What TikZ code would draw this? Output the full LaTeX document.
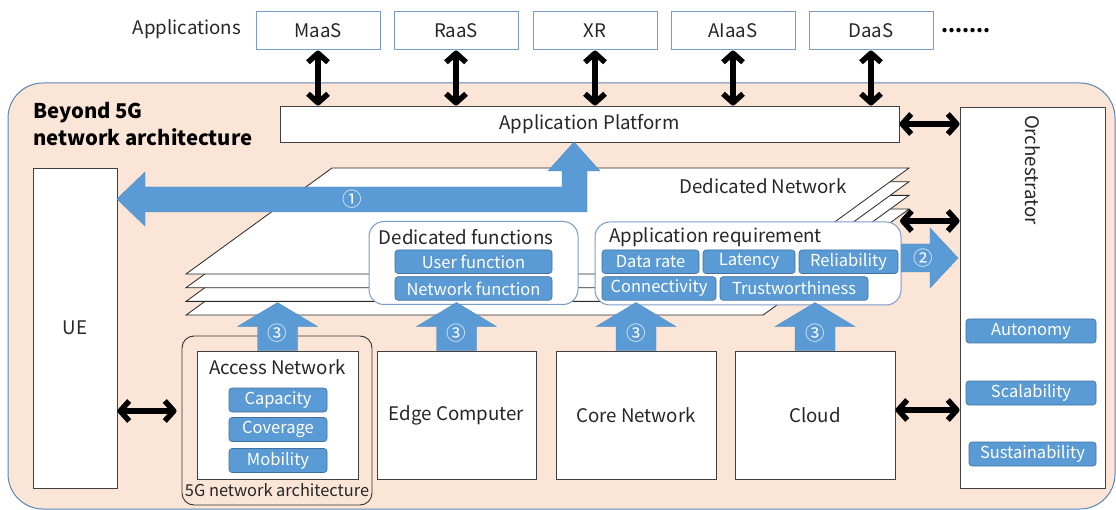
\documentclass[tikz,border=0pt]{standalone}
\usepackage{fontspec}
\setmainfont{Noto Sans CJK JP}
\usetikzlibrary{arrows.meta}
\definecolor{peach}{HTML}{FBE5D6}
\definecolor{bblue}{HTML}{5B9BD5}
\definecolor{bbord}{HTML}{41719C}
\definecolor{appbord}{HTML}{7A9CC8}
\definecolor{outbord}{HTML}{5A86B8}
\definecolor{txt}{HTML}{262626}
\tikzset{
  lbl/.style={font=\fontsize{18.7}{22}\selectfont, text=txt, inner sep=0pt},
  plainbox/.style={draw=black!75, fill=white, line width=0.9pt, inner sep=0pt, font=\fontsize{18.7}{22}\selectfont, text=txt},
  appbox/.style={draw=appbord, fill=white, line width=1pt, inner sep=0pt, minimum width=124pt, minimum height=38pt, font=\fontsize{18.7}{22}\selectfont, text=txt},
  bdg/.style={fill=bblue, draw=bbord, line width=0.6pt, rounded corners=3pt, text=white, font=\fontsize{16.5}{19}\selectfont, inner sep=0pt, minimum height=23.5pt},
  groupbox/.style={draw=appbord, fill=white, line width=1pt, rounded corners=15pt, inner sep=0pt},
  dbl/.style={draw=black, line width=5.5pt, {Straight Barb[length=9pt,width=20pt,line join=round]}-{Straight Barb[length=9pt,width=20pt,line join=round]}},
  circ/.style={text=white, font=\fontsize{19.5}{22}\selectfont, inner sep=0pt},
  layer/.style={fill=white, draw=black!85, line width=0.8pt},
  blockarrow/.style={fill=bblue, draw=bblue!90!black, line width=0.4pt},
  uparrow/.pic={\path[blockarrow] (-20,0) -- (-20,-24) -- (-40,-24) -- (0,-48) -- (40,-24) -- (20,-24) -- (20,0) -- cycle;
     \node[circ] at (0,-17) {③};}
}
\begin{document}
\begin{tikzpicture}[x=1pt,y=-1pt]
\useasboundingbox (0,0) rectangle (1116,510);
% outer frame
\path[fill=peach, draw=outbord, line width=1pt, rounded corners=35pt] (8,83) rectangle (1115,509);
\node[anchor=base west, font=\bfseries\fontsize{20.3}{25}\selectfont, text=black, inner sep=0pt] (title1) at (33,119) {Beyond 5G};
\node[anchor=base west, font=\bfseries\fontsize{20.3}{25}\selectfont, text=black, inner sep=0pt] (title2) at (33,146) {network architecture};

% applications
\node[lbl] (apps) at (187,29) {Applications};
\node[appbox] (maas) at (318,31) {MaaS};
\node[appbox] (raas) at (456,31) {RaaS};
\node[appbox] (xr) at (595,31) {XR};
\node[appbox] (aiaas) at (733,31) {AIaaS};
\node[appbox] (daas) at (871,31) {DaaS};
\node[font=\bfseries\fontsize{20}{22}\selectfont, inner sep=0pt] (dots) at (966,31) {.......};

% platform, orchestrator, UE
\node[plainbox, minimum width=619pt, minimum height=36pt] (plat) at (589.5,124) {Application Platform};
\node[plainbox, minimum width=145pt, minimum height=381pt] (orch) at (1032.5,297.5) {};
\node[lbl, rotate=-90] (orchtxt) at (1033,170) {Orchestrator};
\node[plainbox, minimum width=84pt, minimum height=320pt] (ue) at (75,328) {UE};

\foreach \a in {maas,raas,xr,aiaas,daas}{
  \draw[dbl] (\a.south) -- (\a.south |- plat.north);
}
\draw[dbl] (plat.east) -- (plat.east -| orch.west);

% dedicated network layers
\foreach \k in {3,2,1,0}{
  \path[layer] ({332},{168+13.7*\k}) -- ({909},{168+13.7*\k}) -- ({763},{274+13.7*\k}) -- ({186},{274+13.7*\k}) -- cycle;
}
\node[lbl] (dnet) at (763,186) {Dedicated Network};

% arrow 1
\path[blockarrow] (117,199) -- (145,172) -- (145,187) -- (562,187) -- (562,171) -- (548,171) -- (574,142) -- (600,171) -- (587,171) -- (587,212) -- (145,212) -- (145,226) -- cycle;
\node[circ] (c1) at (352,199) {①};

% dedicated functions
\node[groupbox, minimum width=209pt, minimum height=83pt] (dfun) at (473.5,263) {};
\node[lbl] (dfuntxt) at (466,237) {Dedicated functions};
\node[bdg, minimum width=157pt] (userf) at (473.5,261.75) {User function};
\node[bdg, minimum width=157pt] (netf) at (473.5,288.5) {Network function};

% application requirement
\node[groupbox, minimum width=306pt, minimum height=83pt] (areq) at (748,263.5) {};
\node[lbl, anchor=west] (areqtxt) at (609,237) {Application requirement};
\node[bdg, minimum width=97pt] (drate) at (650.5,261.75) {Data rate};
\node[bdg, minimum width=92pt] (lat) at (749,261.75) {Latency};
\node[bdg, minimum width=99pt] (rel) at (848.5,261.75) {Reliability};
\node[bdg, minimum width=114pt] (conn) at (659,288.5) {Connectivity};
\node[bdg, minimum width=148pt] (trust) at (794,288.5) {Trustworthiness};

% arrow 2
\path[blockarrow] (901,244) -- (930,244) -- (930,228) -- (958,258) -- (930,288) -- (930,272) -- (901,272) -- cycle;
\node[circ] (c2) at (923,258) {②};
\coordinate (dnr) at (900,221);
\draw[dbl] (dnr) -- (dnr -| orch.west);

% lower boxes
\node[draw=black!80, line width=0.9pt, rounded corners=12pt, minimum width=190pt, minimum height=169pt, inner sep=0pt] (g5) at (277,420.5) {};
\node[font=\fontsize{16.4}{19}\selectfont, text=txt, inner sep=0pt] (g5txt) at (277,490) {5G network architecture};
\node[plainbox, minimum width=161pt, minimum height=128pt] (access) at (277.5,415) {};
\node[lbl] (accesstxt) at (277.5,367) {Access Network};
\node[bdg, minimum width=98pt, minimum height=24pt] (cap) at (278,400) {Capacity};
\node[bdg, minimum width=98pt, minimum height=24pt] (cov) at (278,429.5) {Coverage};
\node[bdg, minimum width=98pt, minimum height=24pt] (mob) at (278,460.5) {Mobility};
\node[plainbox, minimum width=159pt, minimum height=128pt] (edge) at (456.5,415) {Edge Computer};
\node[plainbox, minimum width=160pt, minimum height=128pt] (core) at (636,415) {Core Network};
\node[plainbox, minimum width=160pt, minimum height=128pt] (cloud) at (815,415) {Cloud};

\pic at (access.north) {uparrow};
\pic at (edge.north) {uparrow};
\pic at (core.north) {uparrow};
\pic at (cloud.north) {uparrow};

% orchestrator badges
\node[bdg, minimum width=130pt, minimum height=24pt] (auto) at (1031,331) {Autonomy};
\node[bdg, minimum width=130pt, minimum height=24pt] (scal) at (1031,393) {Scalability};
\node[bdg, minimum width=127pt, minimum height=24pt] (sust) at (1032.5,454) {Sustainability};

\coordinate (ya) at (0,411);
\draw[dbl] (ue.east |- ya) -- ([xshift=-5pt]g5.west |- ya);
\coordinate (yb) at (0,410);
\draw[dbl] (cloud.east |- yb) -- (orch.west |- yb);
\end{tikzpicture}
\end{document}
